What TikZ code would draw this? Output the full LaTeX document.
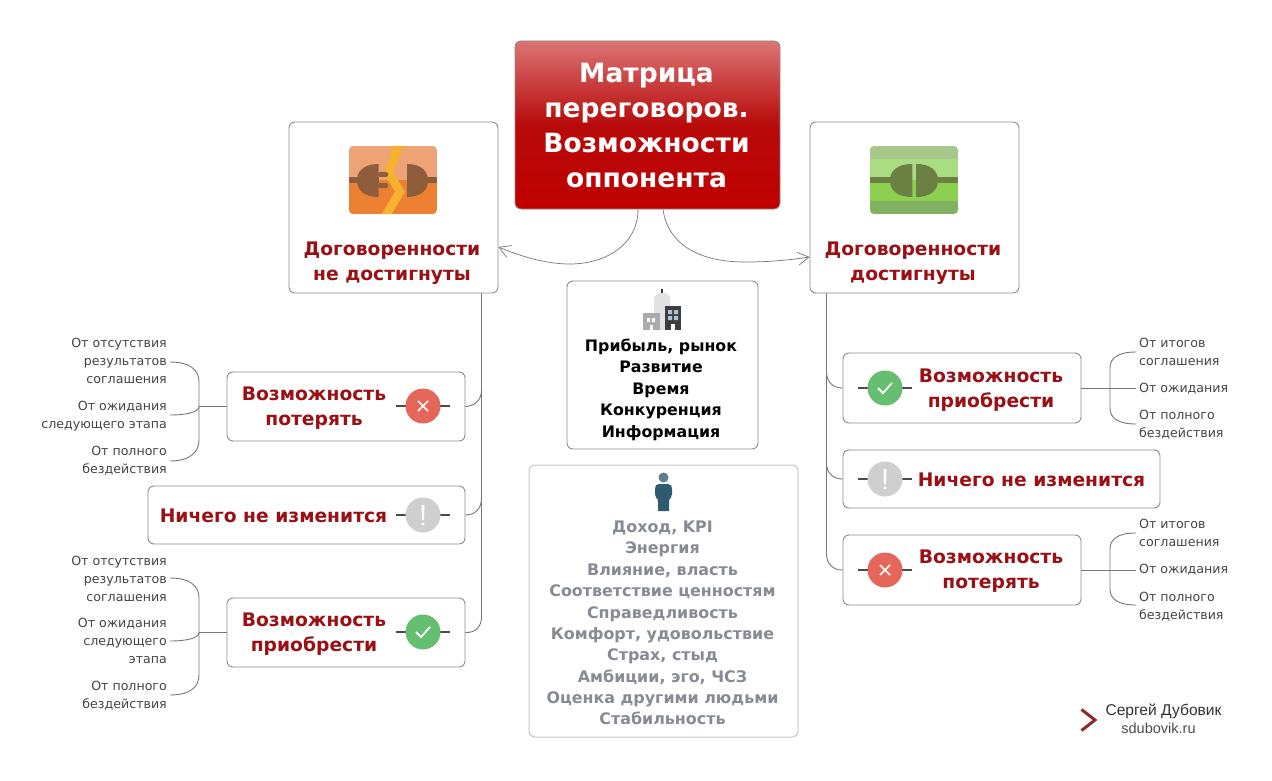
\documentclass[tikz,border=0pt]{standalone}
\usepackage{fontspec}
\setmainfont{DejaVu Sans}
\newfontfamily\signfont{Liberation Sans}
\usetikzlibrary{calc,arrows.meta}
\definecolor{edgegray}{HTML}{8C8C8C}
\definecolor{linkgray}{HTML}{777777}
\definecolor{headred}{HTML}{9A1014}
\definecolor{leafgray}{HTML}{444444}
\definecolor{softgray}{HTML}{878B94}
\definecolor{barcol}{HTML}{4A4A4A}
\definecolor{badred}{HTML}{E5675A}
\definecolor{goodgreen}{HTML}{66BF70}
\definecolor{neutral}{HTML}{CFCFCF}
\definecolor{topred}{HTML}{DC7474}
\definecolor{midred}{HTML}{B80A0A}
\definecolor{lowred}{HTML}{C00000}
\definecolor{orangeA}{HTML}{EDA373}
\definecolor{orangeB}{HTML}{EC8033}
\definecolor{boltcol}{HTML}{F6B12F}
\definecolor{plugbrown}{HTML}{8E5E3C}
\definecolor{greenA}{HTML}{A7C78B}
\definecolor{greenB}{HTML}{AADD82}
\definecolor{greenC}{HTML}{8DD04F}
\definecolor{greenD}{HTML}{82B161}
\definecolor{pluggreen}{HTML}{6C8044}
\definecolor{cityA}{HTML}{333333}
\definecolor{cityB}{HTML}{E2E2E2}
\definecolor{cityC}{HTML}{ABABAB}
\definecolor{cityD}{HTML}{3E3E3E}
\definecolor{cityE}{HTML}{A9C4D4}
\definecolor{headblue}{HTML}{5B7F90}
\definecolor{bodyblue}{HTML}{2F5A70}
\definecolor{signred}{HTML}{8E2A2A}
\tikzset{
  cardbox/.style={draw=edgegray,line width=0.9pt,fill=white,rounded corners=6pt,inner sep=0pt},
  softbox/.style={draw=black!22,line width=1pt,fill=white,rounded corners=6pt,inner sep=0pt},
  headtext/.style={font=\fontsize{18.7}{25}\selectfont\bfseries,text=headred,align=center,inner sep=0pt},
  blacktext/.style={font=\fontsize{15.8}{21.5}\selectfont\bfseries,text=black,align=center,inner sep=0pt},
  greytext/.style={font=\fontsize{15.9}{21.35}\selectfont\bfseries,text=softgray,align=center,inner sep=0pt},
  leafleft/.style={font=\fontsize{12.6}{18}\selectfont,text=leafgray,align=right,anchor=east,inner sep=0pt},
  leafright/.style={font=\fontsize{12.6}{18}\selectfont,text=leafgray,align=left,anchor=west,inner sep=0pt},
  link/.style={draw=linkgray,line width=0.9pt},
  arrowlink/.style={draw=linkgray,line width=0.7pt,-{Straight Barb[length=11pt,width=13pt,line width=0.7pt]}},
  statusbar/.style={draw=barcol,line width=1.8pt},
  badpic/.pic={
    \draw[statusbar] (-27,0) -- (27,0);
    \fill[badred] (0,0) circle (17.5);
    \draw[white,line width=1.6pt] (-5,-5) -- (5,5) (-5,5) -- (5,-5);
  },
  goodpic/.pic={
    \draw[statusbar] (-27,0) -- (27,0);
    \fill[goodgreen] (0,0) circle (17.5);
    \draw[white,line width=1.8pt] (-7,0) -- (-2,5) -- (7,-5);
  },
  neutralpic/.pic={
    \draw[statusbar] (-27,0) -- (27,0);
    \fill[neutral] (0,0) circle (17.5);
    \fill[white] (-1.5,-10) -- (1.5,-10) -- (0.9,5) -- (-0.9,5) -- cycle;
    \fill[white] (0,9) circle (1.6);
  },
}
\begin{document}
\begin{tikzpicture}[x=1pt,y=-1pt]
\useasboundingbox (0,0) rectangle (1272,781);
\fill[white] (0,0) rectangle (1272,781);

% boxes
\node[draw=black!45,line width=0.9pt,rounded corners=6pt,inner sep=0pt,minimum width=265pt,minimum height=168pt,
      top color=topred,bottom color=lowred,middle color=midred] (main) at (647.5,125) {};
\node[cardbox,minimum width=209pt,minimum height=171pt] (lbox) at (393.5,207.5) {};
\node[cardbox,minimum width=209pt,minimum height=171pt] (rbox) at (914.5,207.5) {};
\node[cardbox,minimum width=191pt,minimum height=168pt] (city) at (662.5,365) {};
\node[softbox,minimum width=269pt,minimum height=272pt] (person) at (663.5,601) {};
\node[cardbox,minimum width=238pt,minimum height=69pt] (la) at (346,406.5) {};
\node[cardbox,minimum width=317pt,minimum height=58pt] (lb) at (306.5,515) {};
\node[cardbox,minimum width=238pt,minimum height=69pt] (lc) at (346,632.5) {};
\node[cardbox,minimum width=238pt,minimum height=70pt] (ra) at (962,388) {};
\node[cardbox,minimum width=317pt,minimum height=58pt] (rb) at (1001.5,479) {};
\node[cardbox,minimum width=238pt,minimum height=70pt] (rc) at (962,570) {};

% title and box texts
\node[font=\fontsize{26.5}{35}\selectfont\bfseries,text=white,align=center,inner sep=0pt] (title) at (646.5,126) {Матрица\\переговоров.\\Возможности\\оппонента};
\node[headtext] (lhead) at (392,263) {Договоренности\\не достигнуты};
\node[headtext] (rhead) at (913,263) {Договоренности\\достигнуты};
\node[headtext] (latext) at (314,408.5) {Возможность\\потерять};
\node[headtext] (lbtext) at (273.5,515.5) {Ничего не изменится};
\node[headtext] (lctext) at (314,634) {Возможность\\приобрести};
\node[headtext] (ratext) at (991,390) {Возможность\\приобрести};
\node[headtext] (rbtext) at (1031.5,479.5) {Ничего не изменится};
\node[headtext] (rctext) at (991,571) {Возможность\\потерять};
\node[blacktext] (citytext) at (661,389.5) {Прибыль, рынок\\Развитие\\Время\\Конкуренция\\Информация};
\node[greytext] (persontext) at (662.5,623) {Доход, KPI\\Энергия\\Влияние, власть\\Соответствие ценностям\\Справедливость\\Комфорт, удовольствие\\Страх, стыд\\Амбиции, эго, ЧСЗ\\Оценка другими людьми\\Стабильность};

% status pics
\pic at (423,406) {badpic};
\pic at (423,515) {neutralpic};
\pic at (423,632) {goodpic};
\pic at (885,388) {goodpic};
\pic at (885,479) {neutralpic};
\pic at (885,570) {badpic};

% curved arrows from the main box
\draw[arrowlink] (main.south -| 638,0) .. controls (638,245) and (605,264) .. (570,264) .. controls (545,264) and (520,256) .. (lbox.east |- 0,247);
\draw[arrowlink] (main.south -| 663,0) .. controls (668,245) and (700,262) .. (745,262) .. controls (770,262) and (790,260) .. (rbox.west |- 0,257);

% trunks
\coordinate (ltrunk) at (481.5,293);
\coordinate (rtrunk) at (826.5,293);
\draw[link] (ltrunk) -- (481.5,390) .. controls (481.5,400) and (475,406) .. (la.east);
\draw[link] (ltrunk) -- (481.5,498) .. controls (481.5,509) and (475,515) .. (lb.east);
\draw[link] (ltrunk) -- (481.5,617) .. controls (481.5,627) and (475,633) .. (lc.east);
\draw[link] (rtrunk) -- (826.5,372) .. controls (826.5,382) and (833,388) .. (ra.west);
\draw[link] (rtrunk) -- (826.5,463) .. controls (826.5,473) and (833,479) .. (rb.west);
\draw[link] (rtrunk) -- (826.5,554) .. controls (826.5,564) and (833,570) .. (rc.west);

% leaves, left top
\node[leafleft] (l1a) at (167,361) {От отсутствия\\результатов\\соглашения};
\node[leafleft] (l1b) at (167,416) {От ожидания\\следующего этапа};
\node[leafleft] (l1c) at (167,461) {От полного\\бездействия};
\coordinate (l1ja) at (170,362);
\coordinate (l1jb) at (170,415);
\coordinate (l1jc) at (170,461);
\draw[link] (la.west) -- (199,406.5);
\draw[link] (l1ja) .. controls (190,362) and (199,370) .. (199,382) -- (199,440) .. controls (199,452) and (190,461) .. (l1jc);
\draw[link] (l1jb) .. controls (187,415) and (199,412) .. (199,406.5);

% leaves, left bottom
\node[leafleft] (l2a) at (167,579) {От отсутствия\\результатов\\соглашения};
\node[leafleft] (l2b) at (167,641) {От ожидания\\следующего\\этапа};
\node[leafleft] (l2c) at (167,696) {От полного\\бездействия};
\coordinate (l2ja) at (170,578);
\coordinate (l2jb) at (170,641);
\coordinate (l2jc) at (170,695);
\draw[link] (lc.west) -- (199,632.5);
\draw[link] (l2ja) .. controls (190,578) and (199,586) .. (199,598) -- (199,675) .. controls (199,687) and (190,695) .. (l2jc);
\draw[link] (l2jb) .. controls (187,641) and (199,638) .. (199,632.5);

% leaves, right top
\node[leafright] (r1a) at (1139,352) {От итогов\\соглашения};
\node[leafright] (r1b) at (1139,389) {От ожидания};
\node[leafright] (r1c) at (1139,425) {От полного\\бездействия};
\coordinate (r1ja) at (1136,352);
\coordinate (r1jb) at (1136,388);
\coordinate (r1jc) at (1136,424);
\draw[link] (ra.east) -- (r1jb);
\draw[link] (r1ja) .. controls (1118,352) and (1110,358) .. (1110,368) -- (1110,408) .. controls (1110,418) and (1118,424) .. (r1jc);

% leaves, right bottom
\node[leafright] (r2a) at (1139,533) {От итогов\\соглашения};
\node[leafright] (r2b) at (1139,570) {От ожидания};
\node[leafright] (r2c) at (1139,606.5) {От полного\\бездействия};
\coordinate (r2ja) at (1136,533);
\coordinate (r2jb) at (1136,570);
\coordinate (r2jc) at (1136,605);
\draw[link] (rc.east) -- (r2jb);
\draw[link] (r2ja) .. controls (1118,533) and (1110,539) .. (1110,549) -- (1110,589) .. controls (1110,599) and (1118,605) .. (r2jc);

% icon: broken plug
\begin{scope}
\clip[rounded corners=4pt] (349,146) rectangle (437,214);
\fill[orangeA] (349,146) rectangle (437,180);
\fill[orangeB] (349,180) rectangle (437,214);
\fill[boltcol] (393.3,146) -- (404,146) -- (393.3,171.7) -- (405,191.7) -- (391.7,214) -- (381.7,214) -- (395,191.7) -- (384,173.3) -- cycle;
\fill[plugbrown] (349,177) rectangle (379,183);
\fill[plugbrown] (407,177) rectangle (437,183);
\fill[plugbrown] (378.5,164) .. controls (364,164) and (357,171) .. (357,180.5) .. controls (357,190) and (364,197) .. (378.5,197) -- cycle;
\fill[plugbrown] (407,164) .. controls (421,164) and (428,171) .. (428,180.5) .. controls (428,190) and (421,197) .. (407,197) -- cycle;
\fill[plugbrown,rounded corners=1.5pt] (378,172) rectangle (388,177);
\fill[plugbrown,rounded corners=1.5pt] (378,183) rectangle (388,188);
\end{scope}

% icon: joined plug
\begin{scope}
\clip[rounded corners=4pt] (870,146) rectangle (958,214);
\fill[greenA] (870,146) rectangle (958,159.5);
\fill[greenB] (870,159.5) rectangle (958,180);
\fill[greenC] (870,180) rectangle (958,200.5);
\fill[greenD] (870,200.5) rectangle (958,214);
\fill[pluggreen] (870,177) rectangle (895,183);
\fill[pluggreen] (933,177) rectangle (958,183);
\fill[pluggreen] (912.3,164) .. controls (897,164) and (890,171) .. (890,180.5) .. controls (890,190) and (897,197) .. (912.3,197) -- cycle;
\fill[pluggreen] (916,164) .. controls (931,164) and (938,171) .. (938,180.5) .. controls (938,190) and (931,197) .. (916,197) -- cycle;
\end{scope}

% icon: city
\fill[cityA] (661,288.5) rectangle (662.5,297);
\fill[cityB] (654,330) -- (654,297) -- (658,293) -- (666,293) -- (670,297) -- (670,330) -- cycle;
\fill[cityC] (643,312.5) rectangle (660,330);
\fill[white] (647,318) rectangle (650,322) (652,318) rectangle (655,322);
\fill[white] (649.5,325) rectangle (653,330);
\fill[cityD] (665,306) rectangle (681,330);
\fill[cityE] (668,310) rectangle (672,314) (674,310) rectangle (678,314) (668,316) rectangle (672,320) (674,316) rectangle (678,320);
\fill[white] (671,324) rectangle (675,330);

% icon: person
\fill[headblue] (663.5,477.5) circle (5);
\fill[bodyblue] (659,484) .. controls (656,484) and (655,486) .. (655,489) -- (655,494) .. controls (655,497) and (657,499) .. (658,500) -- (658,511) -- (669,511) -- (669,500) .. controls (670,499) and (672,497) .. (672,494) -- (672,489) .. controls (672,486) and (671,484) .. (668,484) -- cycle;

% signature
\draw[signred,line width=3pt] (1081.5,709.5) -- (1095,720) -- (1081.5,730.5);
\node[font=\signfont\fontsize{15.6}{15.6}\selectfont,text=black!80,inner sep=0pt] (signa) at (1163.5,711.5) {Сергей Дубовик};
\node[font=\signfont\fontsize{14.5}{14.5}\selectfont,text=black!70,inner sep=0pt] (signb) at (1158.5,728.5) {sdubovik.ru};
\end{tikzpicture}
\end{document}
